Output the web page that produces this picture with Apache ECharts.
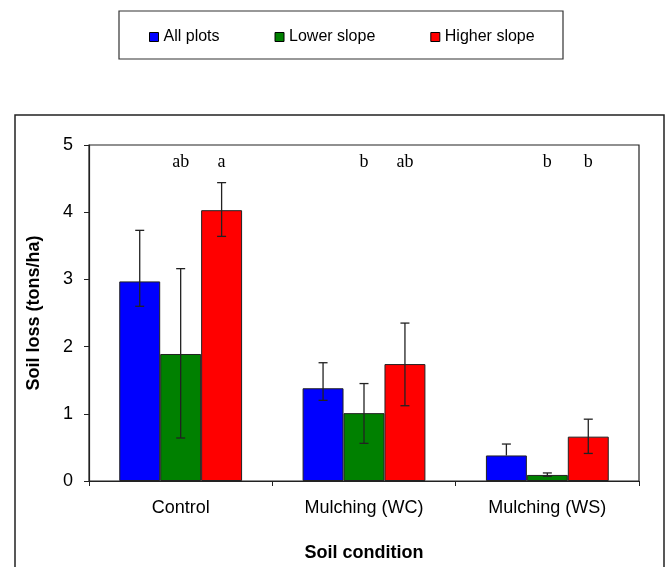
<!DOCTYPE html>
<html>
<head>
<meta charset="utf-8">
<script src="https://cdn.jsdelivr.net/npm/echarts@6/dist/echarts.min.js"></script>
<style>
    html, body { margin: 0; padding: 0; background: #fff; }
    #chart { width: 669px; height: 567px; }
</style>
</head>
<body>
<div id="chart"></div>
<script>
    // data
    var categories = ['Control', 'Mulching (WC)', 'Mulching (WS)'];
    var seriesNames = ['All plots', 'Lower slope', 'Higher slope'];
    var allPlots = [2.97, 1.38, 0.38];
    var lowerSlope = [1.89, 1.01, 0.09];
    var higherSlope = [4.03, 1.74, 0.66];
    // error bar ends (low / high)
    var allLow = [2.60, 1.20, 0.38];
    var allHigh = [3.73, 1.76, 0.55];
    var lowerLow = [0.64, 0.56, 0.07];
    var lowerHigh = [3.16, 1.45, 0.12];
    var higherLow = [3.64, 1.12, 0.41];
    var higherHigh = [4.44, 2.35, 0.92];
    // significance letters
    var allLetters = ['', '', ''];
    var lowerLetters = ['ab', 'b', 'b'];
    var higherLetters = ['a', 'ab', 'b'];
    var yTicks = [0, 1, 2, 3, 4, 5];

    var colors = ['#0000ff', '#008000', '#ff0000'];
    var gapRatio = 0.33;
    var letterY = 4.74;

    var errData = [];
    var lows = [allLow, lowerLow, higherLow];
    var highs = [allHigh, lowerHigh, higherHigh];
    var letters = [allLetters, lowerLetters, higherLetters];
    for (var s = 0; s < 3; s++) {
        for (var c = 0; c < categories.length; c++) {
            errData.push([c, s, lows[s][c], highs[s][c], letters[s][c]]);
        }
    }

    var chart = echarts.init(document.getElementById('chart'));

    function renderErr(params, api) {
        var cat = api.value(0);
        var sIdx = api.value(1);
        var band = api.size([1, 0])[0];
        var barW = band * (1 - gapRatio) / 3;
        var x = api.coord([cat, 0])[0] + (sIdx - 1) * barW;
        var yLo = api.coord([cat, api.value(2)])[1];
        var yHi = api.coord([cat, api.value(3)])[1];
        var cap = 4.5;
        var line = { stroke: '#222', lineWidth: 1.3 };
        var children = [
            { type: 'line', shape: { x1: x, y1: yLo, x2: x, y2: yHi }, style: line },
            { type: 'line', shape: { x1: x - cap, y1: yHi, x2: x + cap, y2: yHi }, style: line }
        ];
        if (api.value(2) < api.value(3) && yLo !== api.coord([cat, 0])[1]) {
            var val = [allPlots, lowerSlope, higherSlope][sIdx][cat];
            if (api.value(2) < val) {
                children.push({ type: 'line', shape: { x1: x - cap, y1: yLo, x2: x + cap, y2: yLo }, style: line });
            }
        }
        var txt = errData[params.dataIndex][4];
        if (txt) {
            children.push({
                type: 'text',
                style: {
                    text: txt,
                    x: x,
                    y: api.coord([cat, letterY])[1],
                    align: 'center',
                    verticalAlign: 'middle',
                    fontSize: 18,
                    fontFamily: '"Liberation Serif", "DejaVu Serif", serif',
                    fill: '#000'
                }
            });
        }
        return { type: 'group', children: children };
    }

    function barSeries(name, data, color) {
        return {
            name: name,
            type: 'bar',
            data: data,
            barGap: '0%',
            barCategoryGap: (gapRatio * 100) + '%',
            itemStyle: { color: color, borderColor: '#222', borderWidth: 1 },
            emphasis: { disabled: true }
        };
    }

    chart.setOption({
        animation: false,
        textStyle: { fontFamily: '"Liberation Sans", Arial, sans-serif' },
        color: colors,
        legend: {
            data: seriesNames,
            left: 149,
            top: 29,
            padding: 0,
            itemGap: 55,
            itemWidth: 9,
            itemHeight: 9,
            icon: 'rect',
            itemStyle: { borderColor: '#000', borderWidth: 1 },
            textStyle: { fontSize: 16, color: '#000' }
        },
        grid: {
            left: 89,
            right: 30,
            top: 145,
            bottom: 86,
            show: true,
            borderColor: '#222',
            borderWidth: 1.2
        },
        xAxis: {
            type: 'category',
            data: categories,
            name: 'Soil condition',
            nameLocation: 'middle',
            nameGap: 63,
            nameTextStyle: { fontSize: 18, fontWeight: 'bold', color: '#000' },
            axisLine: { lineStyle: { color: '#222', width: 1.2 } },
            axisTick: { show: true, length: 5, lineStyle: { color: '#222' } },
            axisLabel: { fontSize: 18, color: '#000', margin: 18 }
        },
        yAxis: {
            type: 'value',
            min: yTicks[0],
            max: yTicks[yTicks.length - 1],
            interval: 1,
            name: 'Soil loss (tons/ha)',
            nameLocation: 'middle',
            nameGap: 46,
            nameTextStyle: { fontSize: 18, fontWeight: 'bold', color: '#000' },
            axisLine: { show: true, lineStyle: { color: '#222', width: 1.2 } },
            axisTick: { show: true, length: 5, lineStyle: { color: '#222' } },
            axisLabel: { fontSize: 18, color: '#000', margin: 16 },
            splitLine: { show: false }
        },
        graphic: [
            {
                type: 'rect',
                shape: { x: 15, y: 115, width: 649, height: 500 },
                style: { fill: 'none', stroke: '#222', lineWidth: 1.5 },
                silent: true
            },
            {
                type: 'rect',
                shape: { x: 119, y: 11, width: 444, height: 48 },
                style: { fill: 'none', stroke: '#333', lineWidth: 1.2 },
                silent: true
            }
        ],
        series: [
            barSeries(seriesNames[0], allPlots, colors[0]),
            barSeries(seriesNames[1], lowerSlope, colors[1]),
            barSeries(seriesNames[2], higherSlope, colors[2]),
            {
                type: 'custom',
                renderItem: renderErr,
                data: errData,
                encode: { x: 0, y: [2, 3] },
                z: 10,
                silent: true
            }
        ]
    });
</script>
</body>
</html>
